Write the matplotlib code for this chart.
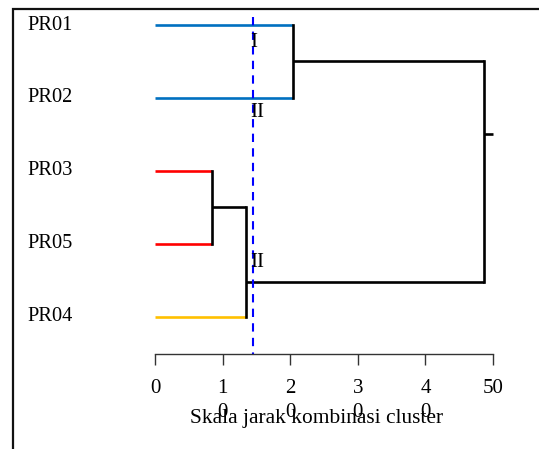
import matplotlib
matplotlib.use("Agg")
import matplotlib.pyplot as plt
from matplotlib.patches import Rectangle

# ---- data ----
leaves = ["PR01", "PR02", "PR03", "PR05", "PR04"]
leaf_pos = [1, 2, 3, 4, 5]
leaf_colors = ["#0070C0", "#0070C0", "#FF0000", "#FF0000", "#FFC000"]
# leaf branch length (height at which each leaf joins)
leaf_join = [20.4, 20.4, 8.5, 8.5, 13.4]
# merges: child a y, child b y, merge height, node y, parent height
merge_a = [1.0, 3.0, 3.5, 1.5]
merge_b = [2.0, 4.0, 5.0, 4.52]
merge_h = [20.4, 8.5, 13.4, 48.7]
merge_node_y = [1.5, 3.5, 4.52, 2.5]
node_parent_h = [48.7, 13.4, 48.7, 50.0]
cut_value = 14.55
cluster_labels = ["I", "II", "II"]
cluster_label_y = [1.24, 2.2, 4.25]
xticks = [0, 10, 20, 30, 40, 50]
xticklabels = ["0", "1\n0", "2\n0", "3\n0", "4\n0", "50"]
xlabel = "Skala jarak kombinasi cluster"

W, H = 539, 449
plt.rcParams["font.family"] = ["Liberation Serif", "DejaVu Serif"]
fig = plt.figure(figsize=(W / 100, H / 100), dpi=100)

# axes: x 0..50 -> px 155..493 ; bottom spine at px 354, top px 8
ax = fig.add_axes([155 / W, 1 - 354 / H, (493 - 155) / W, (354 - 8) / H])
ax.set_xlim(0, 50)
ppu = 73.0
ax.set_ylim(1 + (354 - 25) / ppu, 1 - (25 - 8) / ppu)
for s in ["top", "right", "left"]:
    ax.spines[s].set_visible(False)
ax.spines["bottom"].set_color("#333333")
ax.spines["bottom"].set_linewidth(1.0)
ax.set_yticks([])
ax.set_xticks(xticks)
ax.set_xticklabels(xticklabels, fontsize=15, linespacing=1.38)
ax.tick_params(axis="x", direction="out", length=8, width=1.0, color="#333333", pad=10)
ax.patch.set_alpha(0)

lw = 1.9
# leaves
for name, y, c, h in zip(leaves, leaf_pos, leaf_colors, leaf_join):
    ax.plot([0, h], [y, y], color=c, lw=lw, solid_capstyle="butt", clip_on=False)
    ax.text(-18.9, y, name, fontsize=14.7, ha="left", va="center", clip_on=False)

# merges
for a, b, h, ny, ph in zip(merge_a, merge_b, merge_h, merge_node_y, node_parent_h):
    ax.plot([h, h], [a, b], color="black", lw=lw, solid_capstyle="projecting", clip_on=False)
    ax.plot([h, ph], [ny, ny], color="black", lw=lw, solid_capstyle="butt", clip_on=False)

# cut line
ax.plot([cut_value, cut_value], [0.89, 5.52], color="#0000FF", lw=1.5,
        ls=(0, (4, 3)), clip_on=False)

# cluster labels
for lab, y in zip(cluster_labels, cluster_label_y):
    ax.text(cut_value - 0.4, y, lab, fontsize=15, ha="left", va="center", clip_on=False)

fig.text(317 / W, 1 - 418 / H, xlabel, fontsize=15.4, ha="center", va="center")

# outer border
fig.patches.append(Rectangle((13 / W, -0.5), 2, 0.5 + (1 - 9 / H), transform=fig.transFigure,
                             fill=False, ec="#111111", lw=1.6))

fig.savefig("out.png", dpi=100)
